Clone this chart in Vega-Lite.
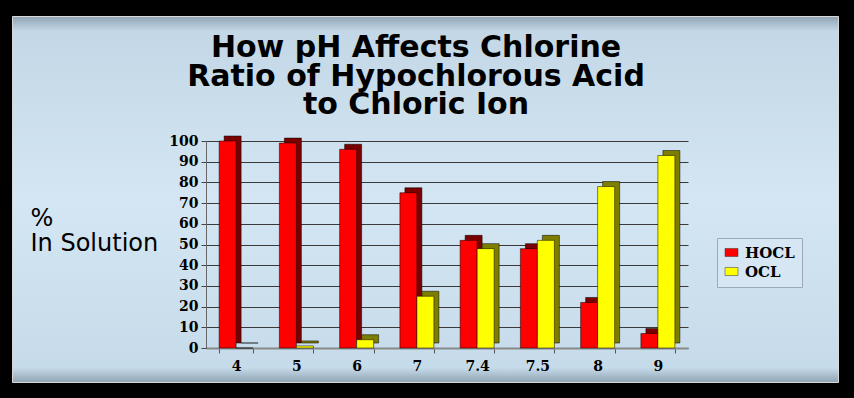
{
  "$schema": "https://vega.github.io/schema/vega-lite/v6.json",
  "width": 826,
  "height": 366,
  "autosize": {"type": "none"},
  "padding": {"left": 12, "top": 16, "right": 16, "bottom": 16},
  "background": "#000000",
  "title": {
    "text": ["How pH Affects Chlorine", "Ratio of Hypochlorous Acid", "to Chloric Ion"],
    "font": "DejaVu Sans",
    "fontSize": 30,
    "fontWeight": "bold",
    "color": "#000000",
    "lineHeight": 28.5,
    "anchor": "middle",
    "frame": "group",
    "dx": -9,
    "offset": -104
  },
  "data": {
    "values": [
      {"pH": "4", "series": "HOCL", "value": 100},
      {"pH": "4", "series": "OCL", "value": 0},
      {"pH": "5", "series": "HOCL", "value": 99},
      {"pH": "5", "series": "OCL", "value": 1},
      {"pH": "6", "series": "HOCL", "value": 96},
      {"pH": "6", "series": "OCL", "value": 4},
      {"pH": "7", "series": "HOCL", "value": 75},
      {"pH": "7", "series": "OCL", "value": 25},
      {"pH": "7.4", "series": "HOCL", "value": 52},
      {"pH": "7.4", "series": "OCL", "value": 48},
      {"pH": "7.5", "series": "HOCL", "value": 48},
      {"pH": "7.5", "series": "OCL", "value": 52},
      {"pH": "8", "series": "HOCL", "value": 22},
      {"pH": "8", "series": "OCL", "value": 78},
      {"pH": "9", "series": "HOCL", "value": 7},
      {"pH": "9", "series": "OCL", "value": 93}
    ]
  },
  "encoding": {
    "x": {
      "field": "pH",
      "type": "nominal",
      "sort": ["4", "5", "6", "7", "7.4", "7.5", "8", "9"],
      "scale": {"range": [194, 676], "paddingInner": 0.436, "paddingOuter": 0.218},
      "axis": {
        "orient": "bottom",
        "offset": -34,
        "title": null,
        "labelAngle": 0,
        "labelFont": "DejaVu Serif",
        "labelFontWeight": "bold",
        "labelFontSize": 14,
        "labelColor": "#000000",
        "labelPadding": 6,
        "tickBand": "extent",
        "tickSize": 5,
        "tickColor": "#555555",
        "domainColor": "#888888",
        "domainWidth": 2,
        "grid": false
      }
    },
    "y": {
      "field": "value",
      "type": "quantitative",
      "scale": {"domain": [0, 100], "range": [332, 125], "nice": false},
      "axis": {
        "orient": "left",
        "offset": -194,
        "values": [0, 10, 20, 30, 40, 50, 60, 70, 80, 90, 100],
        "title": ["%", "In Solution"],
        "titleAngle": 0,
        "titleAlign": "left",
        "titleBaseline": "alphabetic",
        "titleX": -176,
        "titleY": 209,
        "titleFont": "DejaVu Sans",
        "titleFontSize": 24,
        "titleFontWeight": "normal",
        "titleColor": "#000000",
        "titleLineHeight": 25,
        "labelFont": "DejaVu Serif",
        "labelFontWeight": "bold",
        "labelFontSize": 14,
        "labelColor": "#000000",
        "labelPadding": 3,
        "tickSize": 5,
        "tickColor": "#444444",
        "domainColor": "#666666",
        "grid": true,
        "gridColor": "#3a3a3a",
        "gridWidth": 1
      }
    }
  },
  "layer": [
    {
      "mark": {"type": "bar", "yOffset": -5, "y2Offset": -5, "stroke": "#000000", "strokeWidth": 0.5},
      "encoding": {
        "xOffset": {
          "field": "series",
          "type": "nominal",
          "sort": ["HOCL", "OCL"],
          "scale": {"range": [5, 39], "paddingInner": 0, "paddingOuter": 0}
        },
        "color": {
          "field": "series",
          "type": "nominal",
          "scale": {"domain": ["HOCL", "OCL"], "range": ["#7a0000", "#7d7d00"]},
          "legend": null
        }
      }
    },
    {
      "mark": {"type": "bar", "stroke": "#000000", "strokeWidth": 0.5},
      "encoding": {
        "xOffset": {
          "field": "series",
          "type": "nominal",
          "sort": ["HOCL", "OCL"],
          "scale": {"range": [0, 34], "paddingInner": 0, "paddingOuter": 0}
        },
        "color": {
          "field": "series",
          "type": "nominal",
          "scale": {"domain": ["HOCL", "OCL"], "range": ["#ff0000", "#ffff00"]},
          "legend": {
            "orient": "none",
            "legendX": 705,
            "legendY": 222,
            "title": null,
            "fillColor": "#d6e7f3",
            "strokeColor": "#9aaab8",
            "padding": 7,
            "labelFont": "DejaVu Serif",
            "labelFontWeight": "bold",
            "labelFontSize": 15,
            "labelColor": "#000000",
            "labelOffset": 6,
            "symbolType": "M-1,-0.62H1V0.62H-1Z",
            "symbolSize": 169,
            "symbolStrokeColor": "#333333",
            "symbolStrokeWidth": 0.5,
            "symbolOpacity": 1,
            "rowPadding": 3
          }
        }
      }
    }
  ],
  "resolve": {"scale": {"color": "independent", "xOffset": "independent"}},
  "config": {
    "view": {
      "fill": {
        "gradient": "linear",
        "x1": 0, "y1": 0, "x2": 0, "y2": 1,
        "stops": [
          {"offset": 0, "color": "#8fa3b3"},
          {"offset": 0.04, "color": "#c3d7e6"},
          {"offset": 0.5, "color": "#d4e6f3"},
          {"offset": 0.96, "color": "#c6dbea"},
          {"offset": 1, "color": "#8fa3b3"}
        ]
      },
      "stroke": "#d8d8d8",
      "strokeWidth": 1
    }
  }
}
